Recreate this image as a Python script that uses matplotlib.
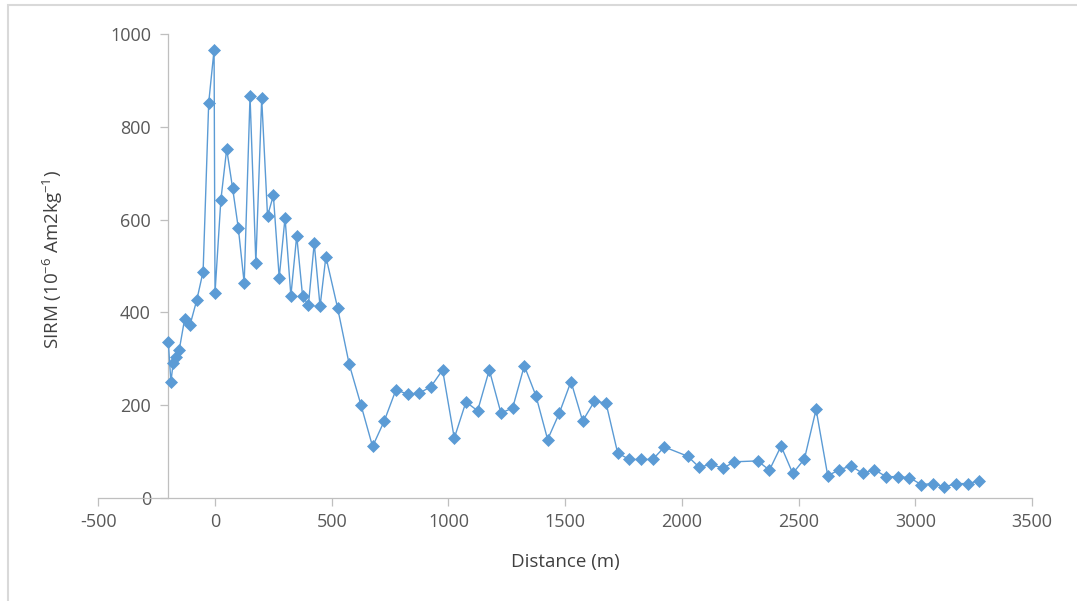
import matplotlib
matplotlib.use("Agg")
import matplotlib.pyplot as plt
from matplotlib.patches import Rectangle

# SIRM profile along the transect
distance_m = [-200, -189, -179, -167, -153, -130, -107, -78, -51, -27, -4, 0,
              25, 50, 75, 100, 125, 150, 175, 200, 225, 250, 275, 300, 325,
              350, 375, 400, 425, 450, 475, 525, 575, 625, 675, 725, 775, 825,
              875, 925, 975, 1025, 1075, 1125, 1175, 1225, 1275, 1325, 1375,
              1425, 1475, 1525, 1575, 1625, 1675, 1725, 1775, 1825, 1875, 1925,
              2025, 2075, 2125, 2175, 2225, 2325, 2375, 2425, 2475, 2525, 2575,
              2625, 2675, 2725, 2775, 2825, 2875, 2925, 2975, 3025, 3075, 3125,
              3175, 3225, 3275]
sirm = [336, 250, 292, 304, 320, 386, 373, 427, 488, 852, 966, 442,
        642, 752, 669, 581, 463, 866, 507, 861, 608, 652, 475, 604, 436,
        565, 436, 415, 549, 413, 520, 410, 288, 201, 111, 166, 233, 224,
        226, 240, 276, 129, 207, 188, 276, 183, 194, 285, 220, 126, 183,
        251, 166, 208, 205, 97, 83, 83, 83, 110, 90, 66, 73, 64, 78,
        80, 60, 112, 53, 84, 191, 48, 61, 69, 53, 61, 46, 46, 44,
        29, 31, 24, 31, 31, 37]

x_ticks = [-500, 0, 500, 1000, 1500, 2000, 2500, 3000, 3500]
y_ticks = [0, 200, 400, 600, 800, 1000]

plt.rcParams["font.family"] = ["Open Sans", "DejaVu Sans"]
plt.rcParams["axes.unicode_minus"] = False
plt.rcParams["mathtext.fontset"] = "custom"
plt.rcParams["mathtext.rm"] = "Open Sans"
plt.rcParams["mathtext.it"] = "Open Sans"
plt.rcParams["mathtext.default"] = "regular"

axis_col = "#BFBFBF"
tick_col = "#595959"
blue = "#5B9BD5"

fig = plt.figure(figsize=(10.77, 6.01), dpi=100)
ax = fig.add_axes([98.3 / 1077, 103 / 601, 933.7 / 1077, 464 / 601])

# chart area frame (only top/left edges fall inside the image)
fig.patches.append(Rectangle((7.5 / 1077, -0.2), 1.5, 0.2 + 596 / 601,
                             transform=fig.transFigure, fill=False,
                             edgecolor="#D9D9D9", linewidth=1.5, zorder=0))

ax.plot(distance_m, sirm, color=blue, linewidth=1.0, marker="D",
        markersize=5.8, markerfacecolor=blue, markeredgecolor=blue,
        markeredgewidth=0.5, zorder=3, clip_on=False)

ax.set_xlim(-500, 3500)
ax.set_ylim(0, 1000)
ax.set_xticks(x_ticks)
ax.set_yticks(y_ticks)

for side in ("top", "right"):
    ax.spines[side].set_visible(False)
# vertical axis crosses at the start of the transect
ax.spines["left"].set_position(("data", -200))
ax.spines["left"].set_color(axis_col)
ax.spines["bottom"].set_color(axis_col)
ax.spines["left"].set_linewidth(0.9)
ax.spines["bottom"].set_linewidth(0.9)

ax.tick_params(axis="both", direction="out", length=5.5, width=0.9,
               color=axis_col, labelcolor=tick_col, labelsize=13)
ax.tick_params(axis="y", pad=7)
ax.tick_params(axis="x", pad=5)

ax.set_xlabel("Distance (m)", fontsize=13.5, color="#404040")
ax.xaxis.set_label_coords(0.5, -0.138)
ax.xaxis.label.set_va("center")

ax.set_ylabel(r"SIRM (10$^{-6}$ Am2kg$^{-1}$)", fontsize=13.5, color="#404040")
ax.yaxis.set_label_coords(-0.0485, 0.513)
ax.yaxis.label.set_va("center")

fig.savefig("out.png", dpi=100)
